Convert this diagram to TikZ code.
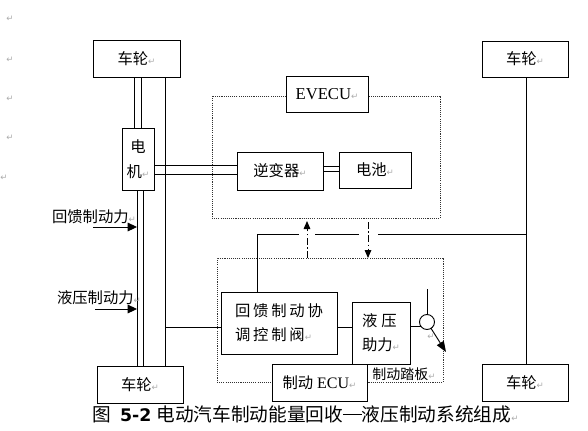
\documentclass[tikz,border=0pt]{standalone}
\usepackage{fontspec}
\setmainfont{Liberation Serif}
\newfontfamily\cjk{Noto Sans CJK SC}
\newfontfamily\cjksp[LetterSpace=18]{Noto Sans CJK SC}
\newfontfamily\dvs{DejaVu Sans}
\usetikzlibrary{arrows.meta}
\newcommand{\retmark}{{\dvs\fontsize{6.5}{6.5}\selectfont\color{gray!65}↵}}
\newcommand{\longdash}{\makebox[1em]{\rule[0.34em]{1em}{0.055em}}}
\begin{document}
\begin{tikzpicture}[x=0.75pt,y=-0.75pt,
  every node/.style={inner sep=0pt, outer sep=0pt},
  ln/.style={line width=0.7pt},
  box/.style={draw, line width=0.7pt, fill=white, align=center, font=\cjk\fontsize{11.5}{18}\selectfont},
  wh/.style 2 args={minimum width=#1*0.75pt, minimum height=#2*0.75pt},
  zone/.style={draw=black!80, line width=0.6pt, dash pattern=on 0.8pt off 0.8pt},
  sig/.style={line width=0.7pt, dash pattern=on 5pt off 2pt on 1pt off 2pt, -{Triangle[length=6pt,width=5pt]}},
  force/.style={line width=0.7pt, -{Triangle[length=7pt,width=6.5pt]}},
  lbl/.style={font=\cjk\fontsize{11.5}{13}\selectfont},
  retn/.style={font=\dvs\fontsize{6.5}{6.5}\selectfont, text=gray!65}
]
\useasboundingbox (0,0) rectangle (588,430);
\fill[white] (0,0) rectangle (588,430);

% zones
\node[zone, wh={228}{122}] (evzone) at (326,157) {};
\node[zone, wh={226}{124}] (brzone) at (330,320) {};

% boxes
\node[box, wh={87}{37}] (wtl) at (136.5,58.5) {车轮\retmark};
\node[box, wh={86}{36}] (wtr) at (525,59) {车轮\retmark};
\node[box, wh={86}{37}] (wbl) at (140,384.5) {车轮\retmark};
\node[box, wh={86}{37}] (wbr) at (525,382.5) {车轮\retmark};
\node[box, wh={32}{62}, font=\cjk\fontsize{11.5}{18.75}\selectfont] (motor) at (138,159) {电\\机\retmark};
\node[box, wh={86}{38}] (inv) at (280,171) {逆变器\retmark};
\node[box, wh={72}{36}] (bat) at (375,170) {电池\retmark};
\node[box, wh={82}{36}, font=\rmfamily\fontsize{12.5}{14}\selectfont] (evecu) at (327,94) {EVECU\retmark};
\node[box, wh={116}{62}, align=left, font=\cjksp\fontsize{11.5}{18}\selectfont] (valve) at (279,323) {回馈制动协\\调控制阀\retmark};
\node[box, wh={58}{62}, align=left, font=\cjk\fontsize{11.5}{18}\selectfont] (hyd) at (381,333) {液\hspace{3pt}压\\助力\retmark};
\node[box, wh={95}{37}, font=\rmfamily\fontsize{12}{13}\selectfont] (ecu) at (319.5,382.5) {{\cjk\fontsize{11.5}{13}\selectfont 制动} ECU\retmark};
\node[draw, circle, line width=0.7pt, fill=white, minimum size=15*0.75pt] (ped) at (427,322) {};
\node[lbl, font=\cjk\fontsize{10.5}{12}\selectfont] (pedlbl) at (404,374) {制动踏板\retmark};

% helper coordinates
\coordinate (xa) at (134.3,0);
\coordinate (xb) at (141.3,0);
\coordinate (xc) at (165,0);
\coordinate (xd) at (137,0);
\coordinate (xe) at (143,0);
\coordinate (xr) at (526,0);
\coordinate (xv) at (257,0);
\coordinate (xu) at (307,0);
\coordinate (xw) at (368,0);
\coordinate (ya) at (0,165);
\coordinate (yb) at (0,174);
\coordinate (yc) at (0,166);
\coordinate (yd) at (0,171);
\coordinate (yh) at (0,327);
\coordinate (yt) at (0,234);
\coordinate (pedtop) at (427,289);
\coordinate (pedtip) at (446,352);
\coordinate (uptip) at (307,221);
\coordinate (dnstart) at (368,222);

% connectors
\draw[ln] (wtl.south -| xa) -- (motor.north -| xa);
\draw[ln] (wtl.south -| xb) -- (motor.north -| xb);
\draw[ln] (wtl.south -| xc) -- (wbl.north -| xc);
\draw[ln] (motor.south -| xd) -- (wbl.north -| xd);
\draw[ln] (motor.south -| xe) -- (wbl.north -| xe);
\draw[ln] (motor.east |- ya) -- (inv.west |- ya);
\draw[ln] (motor.east |- yb) -- (inv.west |- yb);
\draw[ln] (inv.east |- yc) -- (bat.west |- yc);
\draw[ln] (inv.east |- yd) -- (bat.west |- yd);
\draw[ln] (wtr.south -| xr) -- (wbr.north -| xr);
\draw[ln] (xc |- yh) -- (valve.west |- yh);
\draw[ln] (valve.east |- yh) -- (hyd.west |- yh);
\draw[ln] (hyd.east |- ped.220) -- (ped.220);
\draw[ln] (ped.north) -- (pedtop);
\draw[ln, -{Triangle[length=8pt,width=6pt]}] (ped) -- (pedtip);
\draw[ln] (valve.north -| xv) -- (xv |- yt) -- (xr |- yt);
\fill[white] (299,231) rectangle (315,237);
\fill[white] (359,231) rectangle (378,237);
\draw[sig] (xu |- brzone.north) -- (uptip);
\draw[sig] (dnstart) -- (xw |- brzone.north);

% force arrows
\coordinate (f1) at (93,227);
\coordinate (f2) at (95,309);
\draw[force] (f1) -- (xd |- f1);
\draw[force] (f2) -- (xd |- f2);
\node[lbl, anchor=west] (l1) at (52,217) {回馈制动力\retmark};
\node[lbl, anchor=west] (l2) at (57,298) {液压制动力\retmark};

% caption
\node[anchor=west, font=\cjk\fontsize{14}{16}\selectfont] (cap) at (92,414) {图\hspace{7pt}{\dvs\bfseries\fontsize{13}{16}\selectfont 5-2}\hspace{4pt}电动汽车制动能量回收\longdash 液压制动系统组成\retmark};

% paragraph marks
\node[retn] (r1) at (10,19) {↵};
\node[retn] (r2) at (10,60) {↵};
\node[retn] (r3) at (10,99) {↵};
\node[retn] (r4) at (10,138) {↵};
\node[retn] (r5) at (4,178) {↵};
\node[retn] (r6) at (431,337) {↵};
\end{tikzpicture}
\end{document}
